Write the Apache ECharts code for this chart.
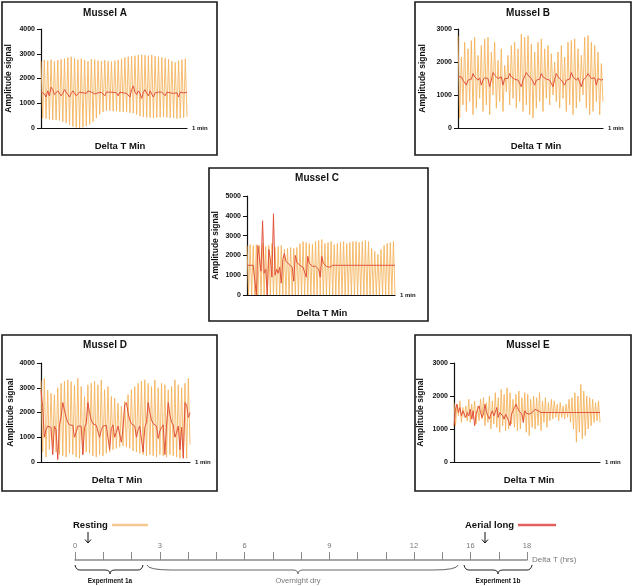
<!DOCTYPE html>
<html>
<head>
<meta charset="utf-8">
<title>Mussel amplitude signals</title>
<script src="https://cdn.jsdelivr.net/npm/echarts@6/dist/echarts.min.js"></script>
<style>
    html, body { margin: 0; padding: 0; background: #fff; }
    #chart { width: 633px; height: 586px; }
</style>
</head>
<body>
<div id="chart"></div>
<script>
// resting signal: alternating peaks / troughs, aerial long: red trace
const aPeak = [2700, 2750, 2720, 2760, 2700, 2740, 2780, 2800, 2850, 2880, 2820, 2760, 2800, 2750, 2700, 2780, 2760, 2720, 2700, 2740, 2700, 2680, 2720, 2750, 2800, 2850, 2880, 2900, 2920, 2950, 2960, 2940, 2920, 2950, 2900, 2880, 2850, 2820, 2780, 2700, 2650, 2720, 2760, 2800];
const aTrough = [400, 380, 350, 330, 320, 300, 250, 200, 120, 60, 20, 0, 30, 80, 150, 250, 400, 550, 650, 700, 700, 680, 680, 660, 650, 640, 620, 600, 550, 480, 450, 430, 420, 400, 420, 430, 450, 430, 420, 400, 380, 400, 420, 450];
const aRed = [1450, 1420, 1380, 1250, 1500, 1300, 1650, 1550, 1350, 1400, 1500, 1450, 1300, 1400, 1550, 1450, 1350, 1250, 1400, 1500, 1420, 1300, 1250, 1450, 1480, 1420, 1450, 1400, 1500, 1420, 1450, 1430, 1380, 1450, 1420, 1450, 1440, 1400, 1300, 1450, 1420, 1450, 1380, 1440, 1450, 1420, 1300, 1450, 1440, 1420, 1450, 1400, 1430, 1250, 1550, 1700, 1450, 1350, 1500, 1400, 1200, 1450, 1550, 1400, 1300, 1500, 1450, 1250, 1420, 1500, 1450, 1380, 1450, 1400, 1300, 1450, 1500, 1420, 1450, 1400, 1450, 1420, 1250, 1450, 1500, 1420, 1450, 1440];

const bPeak = [2800, 2150, 2600, 2400, 2650, 2750, 2200, 2500, 2700, 2750, 2300, 2600, 2050, 2400, 1900, 2200, 2500, 2600, 2400, 2850, 2750, 2800, 2550, 2300, 2600, 2700, 2400, 2500, 2250, 2000, 2300, 2500, 2150, 2600, 2650, 2700, 2400, 2200, 2750, 2800, 2600, 2500, 2300, 1950];
const bTrough = [300, 700, 500, 800, 400, 600, 900, 500, 700, 400, 1000, 600, 800, 500, 1100, 700, 900, 600, 800, 500, 700, 400, 300, 600, 800, 500, 900, 700, 1000, 800, 600, 900, 500, 700, 400, 600, 800, 1000, 600, 400, 500, 800, 400, 800];
const bRed = [1550, 1500, 1550, 1450, 1500, 1300, 1450, 1500, 1480, 1650, 1550, 1500, 1450, 1520, 1300, 1450, 1520, 1480, 1500, 1250, 1450, 1680, 1600, 1550, 1500, 1450, 1550, 1300, 1500, 1480, 1500, 1650, 1550, 1520, 1480, 1500, 1450, 1500, 1250, 1450, 1500, 1680, 1600, 1550, 1500, 1520, 1300, 1450, 1500, 1480, 1650, 1550, 1500, 1480, 1520, 1450, 1500, 1250, 1480, 1650, 1550, 1500, 1450, 1500, 1300, 1450, 1500, 1480, 1680, 1550, 1500, 1450, 1520, 1500, 1250, 1450, 1500, 1550, 1650, 1600, 1500, 1450, 1520, 1300, 1500, 1550, 1450, 1480];

const cPeak = [2500, 2550, 2500, 2550, 2500, 2600, 2450, 2500, 2600, 2400, 2450, 2500, 2300, 2350, 2400, 2350, 2400, 2600, 2700, 2650, 2600, 2550, 2700, 2750, 2800, 2600, 2650, 2700, 2550, 2600, 2650, 2700, 2600, 2650, 2700, 2700, 2650, 2700, 2750, 2700, 2350, 2200, 2050, 2300, 2500, 2600, 2650, 2700];
const cTrough = [0, 0, 0, 0, 0, 0, 0, 0, 0, 0, 0, 0, 0, 0, 0, 0, 0, 0, 0, 0, 0, 0, 0, 0, 0, 0, 0, 0, 0, 0, 0, 0, 0, 0, 0, 0, 0, 0, 0, 0, 0, 0, 0, 0, 0, 0, 0, 0];
const cRed = [1500, 1500, 1500, 1500, 1500, 1500, 0, 2500, 2400, 1200, 3750, 1100, 1300, 0, 2300, 1800, 900, 4100, 1000, 1300, 1100, 1400, 600, 1800, 2100, 1700, 1600, 1550, 1500, 1400, 700, 2000, 1650, 1550, 1500, 1450, 1400, 1350, 900, 1950, 1600, 1500, 1450, 1400, 1450, 1350, 1300, 900, 1950, 1600, 1500, 1450, 1550, 1400, 1450, 1500, 1500, 1500, 1500, 1500, 1500, 1500, 1500, 1500, 1500, 1500, 1500, 1500, 1500, 1500, 1500, 1500, 1500, 1500, 1500, 1500, 1500, 1500, 1500, 1500, 1500, 1500, 1500, 1500, 1500, 1500, 1500, 1500, 1500, 1500, 1500, 1500, 1500, 1500, 1500, 1500];

const dPeak = [3300, 3380, 2900, 2780, 2720, 3000, 3180, 3260, 3320, 3250, 3100, 3380, 3050, 2650, 3120, 3180, 3260, 3120, 3320, 2920, 3050, 2650, 2580, 2380, 2250, 2450, 2720, 2920, 3050, 3180, 3260, 3320, 3180, 3050, 3320, 3000, 3180, 3120, 2920, 3050, 3320, 3120, 3000, 3180, 3380];
const dTrough = [400, 200, 500, 600, 400, 300, 250, 200, 350, 300, 200, 150, 300, 400, 350, 250, 200, 300, 250, 350, 400, 500, 550, 600, 650, 600, 550, 450, 400, 350, 300, 250, 300, 250, 200, 300, 250, 200, 300, 250, 200, 150, 200, 150, 700];
const dRed = [2900, 2200, 1000, 1300, 1450, 1500, 1400, 300, 1450, 1300, 100, 1500, 1800, 2400, 2100, 1800, 1600, 1500, 1520, 1480, 1000, 1200, 1450, 1500, 1450, 300, 1400, 1550, 2400, 2000, 1700, 1550, 1500, 1480, 1500, 1000, 1300, 1450, 1500, 1480, 1450, 500, 1350, 1500, 1000, 1200, 1450, 1500, 800, 1400, 2300, 2400, 2000, 1700, 1550, 1500, 1450, 1000, 1300, 1450, 1500, 400, 1400, 1600, 2400, 2000, 1700, 1550, 1500, 1450, 950, 1250, 1400, 1500, 300, 1500, 2400, 1900, 1600, 1500, 1000, 1200, 1450, 500, 1400, 150, 2400, 2300, 1800, 2000];

const ePeak = [1800, 1750, 1850, 1650, 1700, 1900, 1750, 1850, 1700, 1900, 1950, 1800, 2000, 1850, 2100, 1950, 2200, 2050, 2250, 2100, 1900, 2050, 2150, 1950, 2100, 2050, 1900, 2000, 1950, 2100, 1850, 1950, 1800, 1900, 1850, 1750, 1800, 1700, 1750, 1900, 1950, 2100, 2000, 2350, 2150, 2000, 1950, 1900, 1800, 1850];
const eTrough = [1100, 1400, 1200, 1350, 1250, 1200, 1300, 1150, 1250, 1300, 1100, 1200, 1000, 1150, 1050, 900, 1100, 950, 1000, 1150, 1050, 950, 1000, 1200, 900, 800, 1050, 1000, 1100, 950, 1200, 1050, 1250, 1300, 1350, 1250, 1350, 1300, 1350, 1200, 1000, 600, 900, 700, 800, 1000, 1100, 1200, 1250, 1200];
const eRed = [1100, 1600, 1750, 1500, 1650, 1400, 1550, 1450, 1350, 1500, 1400, 1600, 1300, 1550, 1100, 1450, 1600, 1700, 1500, 1350, 1450, 1750, 1500, 1400, 1300, 1450, 1550, 1400, 1500, 1650, 1350, 1500, 1450, 1400, 1300, 1450, 1500, 1250, 1100, 1450, 1550, 1650, 1750, 1650, 1550, 1500, 1450, 1200, 1550, 1480, 1500, 1450, 1480, 1500, 1550, 1600, 1580, 1550, 1520, 1500, 1500, 1500, 1500, 1500, 1500, 1500, 1500, 1500, 1500, 1500, 1500, 1500, 1500, 1500, 1500, 1500, 1500, 1500, 1500, 1500, 1500, 1500, 1500, 1500, 1500, 1500, 1500, 1500, 1500, 1500, 1500, 1500, 1500, 1500, 1500, 1500, 1500, 1500, 1500, 1500];

// timeline: 17 evenly spaced ticks, only some carry a label
const tlLabelPos = [0, 3, 6, 9, 12, 14, 16];
const tlLabelText = ["0", "3", "6", "9", "12", "16", "18"];

const FONT = '"Liberation Sans", Arial, sans-serif';
const ORANGE = "rgba(244, 178, 88, 0.85)";
const RED = "#e0523a";

const panels = [
    { title: "Mussel A", peak: aPeak, trough: aTrough, red: aRed, max: 4000,
      grid: { left: 41, top: 29, width: 146, height: 99 }, box: [2, 2, 215, 153], titleXY: [105, 13], footXY: [120, 146], nameGap: 28 },
    { title: "Mussel B", peak: bPeak, trough: bTrough, red: bRed, max: 3000,
      grid: { left: 458, top: 29, width: 145, height: 99 }, box: [415, 2, 216, 153], titleXY: [528, 13], footXY: [536, 146], nameGap: 31 },
    { title: "Mussel C", peak: cPeak, trough: cTrough, red: cRed, max: 5000,
      grid: { left: 247, top: 196, width: 148, height: 99 }, box: [209, 168, 219, 153], titleXY: [317, 178], footXY: [322, 313], nameGap: 27 },
    { title: "Mussel D", peak: dPeak, trough: dTrough, red: dRed, max: 4000,
      grid: { left: 41, top: 363, width: 149, height: 99 }, box: [2, 335, 215, 156], titleXY: [105, 345], footXY: [117, 480], nameGap: 26 },
    { title: "Mussel E", peak: ePeak, trough: eTrough, red: eRed, max: 3000,
      grid: { left: 454, top: 363, width: 146, height: 99 }, box: [415, 335, 216, 156], titleXY: [528, 345], footXY: [529, 480], nameGap: 29 },
];

function interleave(peaks, troughs) {
    const out = [];
    peaks.forEach((p, i) => { out.push(p); out.push(troughs[i]); });
    return out;
}

function toXY(values) {
    return values.map((v, i) => [i / (values.length - 1), v]);
}

function text(x, y, str, font, fill, align) {
    return {
        type: "text", x: x, y: y, z: 10,
        style: { text: str, font: font, fill: fill || "#111", textAlign: align || "center", textVerticalAlign: "middle" },
    };
}

function seg(x1, y1, x2, y2, stroke, width) {
    return { type: "line", shape: { x1: x1, y1: y1, x2: x2, y2: y2 }, style: { stroke: stroke, lineWidth: width || 1 } };
}

function curve(x1, y1, cx, cy, x2, y2, stroke) {
    return {
        type: "bezierCurve",
        shape: { x1: x1, y1: y1, x2: x2, y2: y2, cpx1: cx, cpy1: cy },
        style: { stroke: stroke, fill: "none", lineWidth: 1 },
    };
}

// curly brace under the timeline, drawn from pieces
function brace(x1, xm, x2, y, stroke, hook) {
    return [
        curve(x1, y - 5, x1 + 1, y, x1 + hook, y, stroke),
        seg(x1 + hook, y, xm - 5, y, stroke),
        curve(xm - 5, y, xm, y, xm, y + 4, stroke),
        curve(xm, y + 4, xm, y, xm + 5, y, stroke),
        seg(xm + 5, y, x2 - hook, y, stroke),
        curve(x2 - hook, y, x2 - 1, y, x2, y - 5, stroke),
    ];
}

function arrow(x, y1, y2) {
    return [
        seg(x, y1, x, y2, "#111"),
        { type: "polyline", shape: { points: [[x - 3, y2 - 3.5], [x, y2], [x + 3, y2 - 3.5]] }, style: { stroke: "#111", fill: "none", lineWidth: 1 } },
    ];
}

const grids = [], xAxes = [], yAxes = [], series = [], graphics = [];

panels.forEach((p, k) => {
    grids.push(p.grid);
    xAxes.push({
        gridIndex: k, type: "value", min: 0, max: 1,
        name: "1 min", nameLocation: "end", nameGap: 5,
        nameTextStyle: { fontFamily: FONT, fontSize: 6, fontWeight: "bold", color: "#111" },
        axisLine: { show: true, onZero: false, lineStyle: { color: "#111", width: 1.2 } },
        axisTick: { show: false }, axisLabel: { show: false }, splitLine: { show: false },
    });
    yAxes.push({
        gridIndex: k, type: "value", min: 0, max: p.max, interval: 1000,
        name: "Amplitude signal", nameLocation: "middle", nameGap: p.nameGap,
        nameTextStyle: { fontFamily: FONT, fontSize: 8.5, fontWeight: "bold", color: "#111" },
        axisLine: { show: true, lineStyle: { color: "#111", width: 1.2 } },
        axisTick: { show: true, length: 4, lineStyle: { color: "#111", width: 1 } },
        axisLabel: {
            fontFamily: FONT, fontSize: 7, fontWeight: "bold", color: "#111", margin: 6,
            formatter: (v) => String(v),
        },
        splitLine: { show: false },
    });
    series.push({
        type: "line", xAxisIndex: k, yAxisIndex: k, showSymbol: false, silent: true,
        data: toXY(interleave(p.peak, p.trough)),
        lineStyle: { color: ORANGE, width: 1 }, z: 2,
    });
    series.push({
        type: "line", xAxisIndex: k, yAxisIndex: k, showSymbol: false, silent: true,
        data: toXY(p.red),
        lineStyle: { color: RED, width: 1 }, z: 3,
    });
    graphics.push({
        type: "rect", shape: { x: p.box[0], y: p.box[1], width: p.box[2], height: p.box[3] },
        style: { fill: "none", stroke: "#1a1a1a", lineWidth: 1.6 },
    });
    graphics.push(text(p.titleXY[0], p.titleXY[1], p.title, "bold 10px " + FONT));
    graphics.push(text(p.footXY[0], p.footXY[1], "Delta T Min", "bold 9.5px " + FONT));
});

// timeline along the bottom
grids.push({ left: 75, top: 540, width: 452, height: 20 });
xAxes.push({
    gridIndex: 5, type: "value", min: 0, max: 16, interval: 1,
    name: "Delta T (hrs)", nameLocation: "end", nameGap: 5,
    nameTextStyle: { fontFamily: FONT, fontSize: 8, color: "#777" },
    axisLine: { show: true, onZero: false, lineStyle: { color: "#8a8a8a", width: 1.5 } },
    axisTick: { show: true, inside: true, length: 8, lineStyle: { color: "#8a8a8a", width: 1 } },
    axisLabel: {
        inside: true, margin: 10, fontFamily: FONT, fontSize: 7.5, color: "#777",
        formatter: (v) => {
            const i = tlLabelPos.indexOf(v);
            return i < 0 ? "" : tlLabelText[i];
        },
    },
    splitLine: { show: false },
});
yAxes.push({ gridIndex: 5, type: "value", show: false, min: 0, max: 1 });

graphics.push(
    text(73, 525, "Resting", "bold 9.5px " + FONT, "#111", "left"),
    seg(112, 525, 148, 525, "#f6c78e", 2.5),
    ...arrow(88, 532, 543),
    text(465, 525, "Aerial long", "bold 9.5px " + FONT, "#111", "left"),
    seg(518, 525, 556, 525, "#e2605e", 2.5),
    ...arrow(485, 532, 543),
    ...brace(75, 110, 143, 570, "#222", 5),
    ...brace(147, 298, 458, 570, "#666", 25),
    ...brace(464, 498, 532, 570, "#222", 5),
    text(110, 581, "Experiment 1a", "bold 6.5px " + FONT),
    text(298, 581, "Overnight dry", "7.5px " + FONT, "#777"),
    text(498, 581, "Experiment 1b", "bold 6.5px " + FONT)
);

const chart = echarts.init(document.getElementById("chart"), null, { renderer: "canvas" });
chart.setOption({
    animation: false,
    backgroundColor: "#fff",
    grid: grids,
    xAxis: xAxes,
    yAxis: yAxes,
    series: series,
    graphic: graphics,
});
</script>
</body>
</html>
